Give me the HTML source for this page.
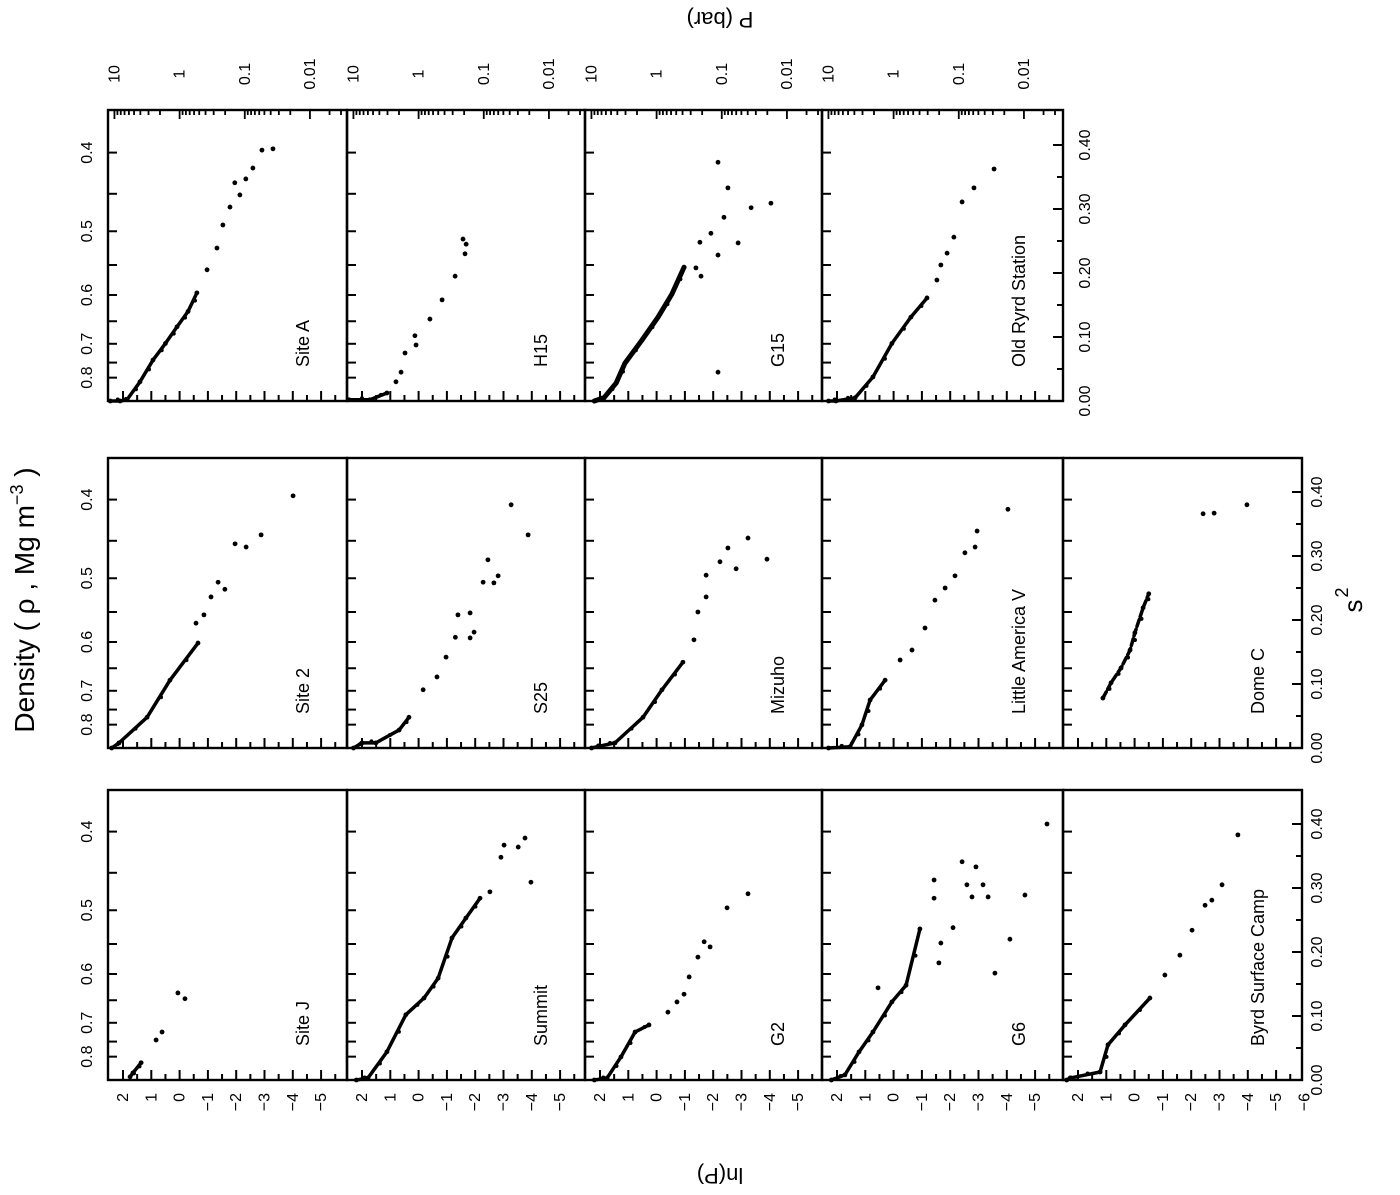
<!DOCTYPE html>
<html><head><meta charset="utf-8"><style>
body{margin:0;background:#fff}
svg{display:block;font-family:"Liberation Sans",sans-serif}
</style></head><body>
<svg id="fig" width="1400" height="1195" viewBox="0 0 1400 1195" xmlns="http://www.w3.org/2000/svg">
<rect width="1400" height="1195" fill="#fff"/>
<text x="720" y="12" transform="rotate(180 720 12)" font-size="22" text-anchor="middle">P (bar)</text>
<text x="720" y="1168" transform="rotate(180 720 1168)" font-size="22" text-anchor="middle">ln(P)</text>
<text x="34" y="600" transform="rotate(-90 34 600)" font-size="28" text-anchor="middle">Density ( ρ , Mg m<tspan font-size="18" dy="-11">−3</tspan><tspan dy="11"> )</tspan></text>
<text x="1362" y="600" transform="rotate(-90 1362 600)" font-size="26" text-anchor="middle">s<tspan font-size="18" dy="-14" dx="2">2</tspan></text>
</svg>
<script>
const panelNames = ["Site A","H15","G15","Old Ryrd Station","Site 2","S25","Mizuho","Little America V","Dome C","Site J","Summit","G2","G6","Byrd Surface Camp"];
const panelGroup = [0,0,0,0,1,1,1,1,1,2,2,2,2,2];
const panelCol = [0,1,2,3,0,1,2,3,4,0,1,2,3,4];
const lnP = [
 [2.45,2.1,1.86,1.4,0.94,0.5,0.09,-0.3,-0.61,-0.97,-1.32,-1.53,-1.78,-2.13,-1.95,-2.34,-2.59,-2.91,-3.30],
 [2.46,1.72,1.12,0.80,0.62,0.48,0.09,0.13,-0.40,-0.83,-1.29,-1.64,-1.68,-1.57],
 [2.2,1.86,1.43,1.12,0.52,-0.05,-0.54,-0.97,-1.39,-2.17,-1.53,-1.57,-1.92,-2.17,-2.38,-2.52,-2.17,-2.88,-3.34,-4.04],
 [2.3,2.04,1.36,0.73,0.06,-0.61,-1.18,-1.53,-1.67,-1.89,-2.13,-2.42,-2.84,-3.55],
 [2.4,2.14,1.15,0.34,-0.65,-0.58,-0.86,-1.11,-1.36,-1.60,-1.96,-2.35,-2.88,-4.01],
 [2.3,2.0,1.51,0.69,0.34,-0.16,-0.65,-0.97,-1.30,-1.39,-1.82,-1.96,-1.82,-2.28,-2.45,-2.66,-2.81,-3.27,-3.87],
 [2.3,2.0,1.47,0.48,-0.19,-0.93,-1.32,-1.46,-1.75,-1.75,-2.24,-2.52,-2.81,-3.23,-3.90],
 [2.3,1.54,1.12,0.83,0.30,-0.23,-0.65,-1.11,-1.46,-1.82,-2.17,-2.52,-2.88,-2.95,-4.04],
 [1.12,0.83,0.48,0.16,-0.01,-0.30,-0.50,-2.42,-2.81,-3.97],
 [1.75,1.65,1.36,0.83,0.62,0.06,-0.19],
 [2.2,1.79,1.12,0.45,-0.19,-0.69,-1.18,-1.67,-2.17,-2.52,-2.91,-3.02,-3.52,-3.76,-3.97],
 [2.2,1.75,1.26,0.76,0.27,-0.40,-0.72,-0.97,-1.15,-1.46,-1.89,-1.68,-2.49,-3.23],
 [2.2,1.72,1.22,0.73,0.06,-0.44,-0.93,0.55,-1.43,-1.43,-1.67,-1.60,-2.10,-2.42,-2.59,-2.91,-3.16,-3.34,-2.77,-3.58,-4.11,-4.64,-5.42],
 [2.4,2.28,1.22,0.94,0.34,-0.54,-1.07,-1.60,-2.03,-2.49,-2.73,-3.09,-3.65]
];
const s2 = [
 [0,0,0.002,0.03,0.064,0.09,0.116,0.14,0.169,0.205,0.239,0.275,0.303,0.322,0.341,0.347,0.364,0.392,0.394],
 [0.002,0.002,0.0125,0.03,0.045,0.075,0.0875,0.102,0.128,0.158,0.195,0.230,0.245,0.253],
 [0,0.005,0.028,0.059,0.095,0.131,0.167,0.209,0.208,0.045,0.248,0.195,0.262,0.228,0.287,0.333,0.373,0.247,0.302,0.309],
 [0,0,0.005,0.0375,0.09,0.131,0.161,0.189,0.2125,0.231,0.256,0.311,0.333,0.3625],
 [0,0.008,0.048,0.106,0.164,0.195,0.208,0.236,0.259,0.248,0.319,0.314,0.333,0.394],
 [0,0.008,0.008,0.028,0.048,0.091,0.111,0.142,0.173,0.208,0.172,0.181,0.211,0.259,0.294,0.258,0.269,0.380,0.333],
 [0,0.003,0.008,0.048,0.091,0.134,0.169,0.2125,0.236,0.270,0.291,0.3125,0.280,0.328,0.295],
 [0,0.002,0.036,0.075,0.106,0.1375,0.153,0.1875,0.231,0.25,0.269,0.305,0.314,0.339,0.373],
 [0.078,0.102,0.125,0.153,0.180,0.219,0.241,0.366,0.367,0.380],
 [0.005,0.011,0.027,0.0625,0.075,0.136,0.127],
 [0,0.003,0.044,0.102,0.128,0.159,0.222,0.253,0.284,0.294,0.348,0.367,0.364,0.378,0.309],
 [0,0.003,0.036,0.075,0.086,0.106,0.122,0.134,0.161,0.192,0.208,0.216,0.269,0.291],
 [0,0.008,0.044,0.075,0.122,0.148,0.236,0.144,0.3125,0.284,0.214,0.183,0.238,0.341,0.305,0.333,0.305,0.286,0.286,0.167,0.220,0.289,0.400],
 [0,0.003,0.0125,0.055,0.086,0.128,0.164,0.195,0.234,0.273,0.281,0.305,0.383]
];
const denseCount = [9,3,8,7,5,5,6,5,7,3,9,5,7,6];
const densityTicks = [0.40,0.45,0.50,0.55,0.60,0.65,0.70,0.75,0.80];
const densityLabels = ["0.4","0.5","0.6","0.7","0.8"];
const s2Ticks = [0,0.05,0.10,0.15,0.20,0.25,0.30,0.35,0.40];
const s2Labels = ["0.00","0.10","0.20","0.30","0.40"];
const pLabels = ["10","1","0.1","0.01"];
const pDecades = [10,1,0.1,0.01];

const NS="http://www.w3.org/2000/svg";
const svg=document.getElementById('fig');
const groupTop=[110,458,790], groupBottom=[401,748,1080];
const groupCols=[4,5,5];
const colLeft=[108,347,585,822,1063], colRight=[347,585,822,1063,1302];
const SX=28.3, SY=640;
function xOf(v,L){return L+15+(2-v)*SX;}
function yOf(v,B){return B-v*SY;}
function sOfRho(r){const a=1.055-1.08*r;return a*a;}
function mk(tag,attrs,parent){const e=document.createElementNS(NS,tag);for(const k in attrs)e.setAttribute(k,attrs[k]);(parent||svg).appendChild(e);return e;}
function txt(x,y,str,size,anchor,rot,parent){const t=mk('text',{x:x,y:y,'font-size':size,'text-anchor':anchor,transform:'rotate('+rot+' '+x+' '+y+')'},parent);t.textContent=str;return t;}

for(let g=0;g<3;g++){
  const T=groupTop[g],B=groupBottom[g];
  const gEl=mk('g',{});
  
  
  for(let c=0;c<groupCols[g];c++){
    const L=colLeft[c],R=colRight[c];
    const fr=mk('rect',{x:L,y:T,width:R-L,height:B-T,fill:'none',stroke:'#000','stroke-width':2.4},gEl);
    
    
    const lastTick = (g===2&&c===4)?-6:-5.5;
    for(let k=2;k>=lastTick;k-=0.5){
      const x=xOf(k,L); if(x>R-2)continue;
      const len=Number.isInteger(k)?10:6;
      mk('line',{x1:x,x2:x,y1:B,y2:B-len,stroke:'#000','stroke-width':2},gEl);
    }
    densityTicks.forEach(r=>{const y=yOf(sOfRho(r),B);mk('line',{x1:L,x2:L+9,y1:y,y2:y,stroke:'#000','stroke-width':2},gEl);});
  }
  const R=colRight[groupCols[g]-1];
  s2Ticks.forEach((v,i)=>{const y=yOf(v,B);mk('line',{x1:R,x2:R-(i%2?6:10),y1:y,y2:y,stroke:'#000','stroke-width':2},gEl);});
  const lx = g===0?1090:1322;
  s2Labels.forEach(s=>{const y=yOf(parseFloat(s),B);const t=txt(lx,y,s,16,'middle',-90,gEl);
    
    });
  densityLabels.forEach(s=>{const y=yOf(sOfRho(parseFloat(s)),B);const t=txt(92,y,s,16,'middle',-90,gEl);
    
    });
}
for(let c=0;c<4;c++){
  const L=colLeft[c],R=colRight[c],T=groupTop[0];
  pDecades.forEach((d,di)=>{
    for(let m=1;m<=9;m++){
      if(di===0&&m>1)continue;
      const v=Math.log(d*m);
      const x=xOf(v,L); if(x<L||x>R)continue;
      mk('line',{x1:x,x2:x,y1:T,y2:T+(m===1?9:5),stroke:'#000','stroke-width':1.8});
    }
    const x=xOf(Math.log(d),L);
    const t=txt(x+5,T-36,pLabels[di],16,'middle',-90);
    
    
  });
  for(let m=2;m<=9;m++){const x=xOf(Math.log(0.01/m),L);if(x<R)mk('line',{x1:x,x2:x,y1:T,y2:T+5,stroke:'#000','stroke-width':1.8});}
}
for(let c=0;c<5;c++){
  const L=colLeft[c];
  const vals = c===4?[2,1,0,-1,-2,-3,-4,-5,-6]:[2,1,0,-1,-2,-3,-4,-5];
  vals.forEach(v=>{const x=xOf(v,L)+5;const t=txt(x,1093,(v<0?'−'+(-v):String(v)),16,'end',-90);
    
    });
}
panelNames.forEach((name,p)=>{
  const g=panelGroup[p],c=panelCol[p];
  const L=colLeft[c],R=colRight[c],B=groupBottom[g];
  const gEl=mk('g',{});
  
  
  const lab=txt(R-38,B-34,name,18,'start',-90,gEl);
  
  
  const n=denseCount[p];
  if(n>1){
    let pts=[];
    for(let i=0;i<n;i++)pts.push(xOf(lnP[p][i],L)+','+yOf(s2[p][i],B));
    const pl=mk('polyline',{points:pts.join(' '),fill:'none',stroke:'#000','stroke-width':p===2?5:3.5,'stroke-linecap':'round','stroke-linejoin':'round','stroke-dasharray':p===8?'7 3':'none'},gEl);
    
    
    for(let i=0;i<n-1;i++){
      const mx=(xOf(lnP[p][i],L)+xOf(lnP[p][i+1],L))/2+2.5, my=(yOf(s2[p][i],B)+yOf(s2[p][i+1],B))/2-1.5;
      const d=mk('circle',{cx:mx,cy:my,r:2,fill:'#000'},gEl);
      
      
    }
  }
  for(let i=0;i<lnP[p].length;i++){
    const ci=mk('circle',{cx:xOf(lnP[p][i],L),cy:yOf(s2[p][i],B),r:2.4,fill:'#000'},gEl);
    
    
  }
});
</script>
</body></html>
